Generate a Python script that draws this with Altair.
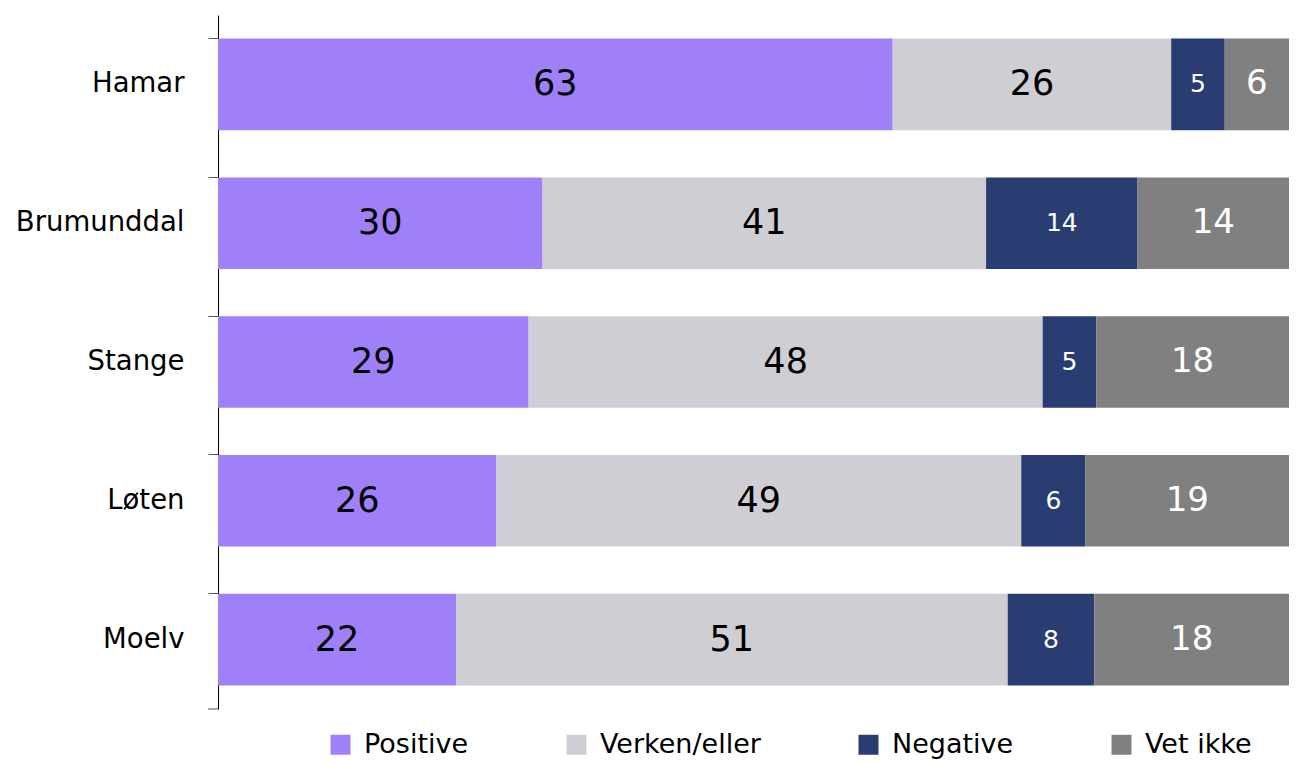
import altair as alt
import pandas as pd

cities = ["Hamar", "Brumunddal", "Stange", "Løten", "Moelv"]
categories = ["Positive", "Verken/eller", "Negative", "Vet ikke"]
positive = [63, 30, 29, 26, 22]
verken = [26, 41, 48, 49, 51]
negative = [5, 14, 5, 6, 8]
vet_ikke = [6, 14, 18, 19, 18]
colors = ["#a080f8", "#cfced4", "#293d72", "#808080"]

rows = []
for series_idx, (cat, vals) in enumerate(zip(categories, [positive, verken, negative, vet_ikke])):
    for city, v in zip(cities, vals):
        rows.append({"city": city, "cat": cat, "value": v, "order": series_idx})
df = pd.DataFrame(rows)

FONT = "DejaVu Sans"

base = alt.Chart(df).transform_stack(
    stack="value", groupby=["city"], as_=["v0", "v1"],
    sort=[alt.SortField("order", "ascending")], offset="normalize"
).transform_calculate(mid="(datum.v0 + datum.v1) / 2")

yenc = alt.Y("city:N", sort=cities, title=None,
             scale=alt.Scale(paddingInner=0.34, paddingOuter=0.17),
             axis=alt.Axis(bandPosition=0, tickSize=10, labelPadding=24,
                           labelFontSize=27.5, labelFont=FONT, labelColor="#000",
                           domainColor="#000", tickColor="#555", grid=False))

bars = base.mark_bar().encode(
    x=alt.X("v0:Q", scale=alt.Scale(domain=[0, 1], nice=False), axis=None),
    x2="v1:Q",
    y=yenc,
    color=alt.Color("cat:N", sort=categories,
                    scale=alt.Scale(domain=categories, range=colors),
                    legend=alt.Legend(title=None, orient="none", direction="horizontal",
                                      legendX=109, legendY=716, columns=4,
                                      symbolType="square", symbolSize=400,
                                      symbolStrokeWidth=0, symbolOpacity=1,
                                      labelFontSize=27, labelFont=FONT, labelColor="#000",
                                      labelOffset=10, columnPadding=94, labelLimit=400)),
)

def text_layer(cat, color, size):
    return base.transform_filter(alt.datum.cat == cat).mark_text(
        font=FONT, fontSize=size, color=color, baseline="middle", align="center"
    ).encode(
        x=alt.X("mid:Q", scale=alt.Scale(domain=[0, 1], nice=False), axis=None),
        y=alt.Y("city:N", sort=cities),
        text="value:Q",
    )

labels = [
    text_layer("Positive", "#000", 35),
    text_layer("Verken/eller", "#000", 35),
    text_layer("Negative", "#fff", 25),
    text_layer("Vet ikke", "#fff", 34),
]

bottom_tick = alt.Chart(pd.DataFrame({"a": [0]})).mark_rule(color="#555").encode(
    x=alt.value(-10), x2=alt.value(0), y=alt.value(694)
)

chart = alt.layer(bars, *labels, bottom_tick).properties(
    width=1071, height=694,
    autosize=alt.AutoSizeParams(type="none"),
    padding={"left": 210, "top": 7, "right": 0, "bottom": 52},
).configure_view(stroke=None)

chart.save("out.html", embed_options={"renderer": "svg", "actions": False})
